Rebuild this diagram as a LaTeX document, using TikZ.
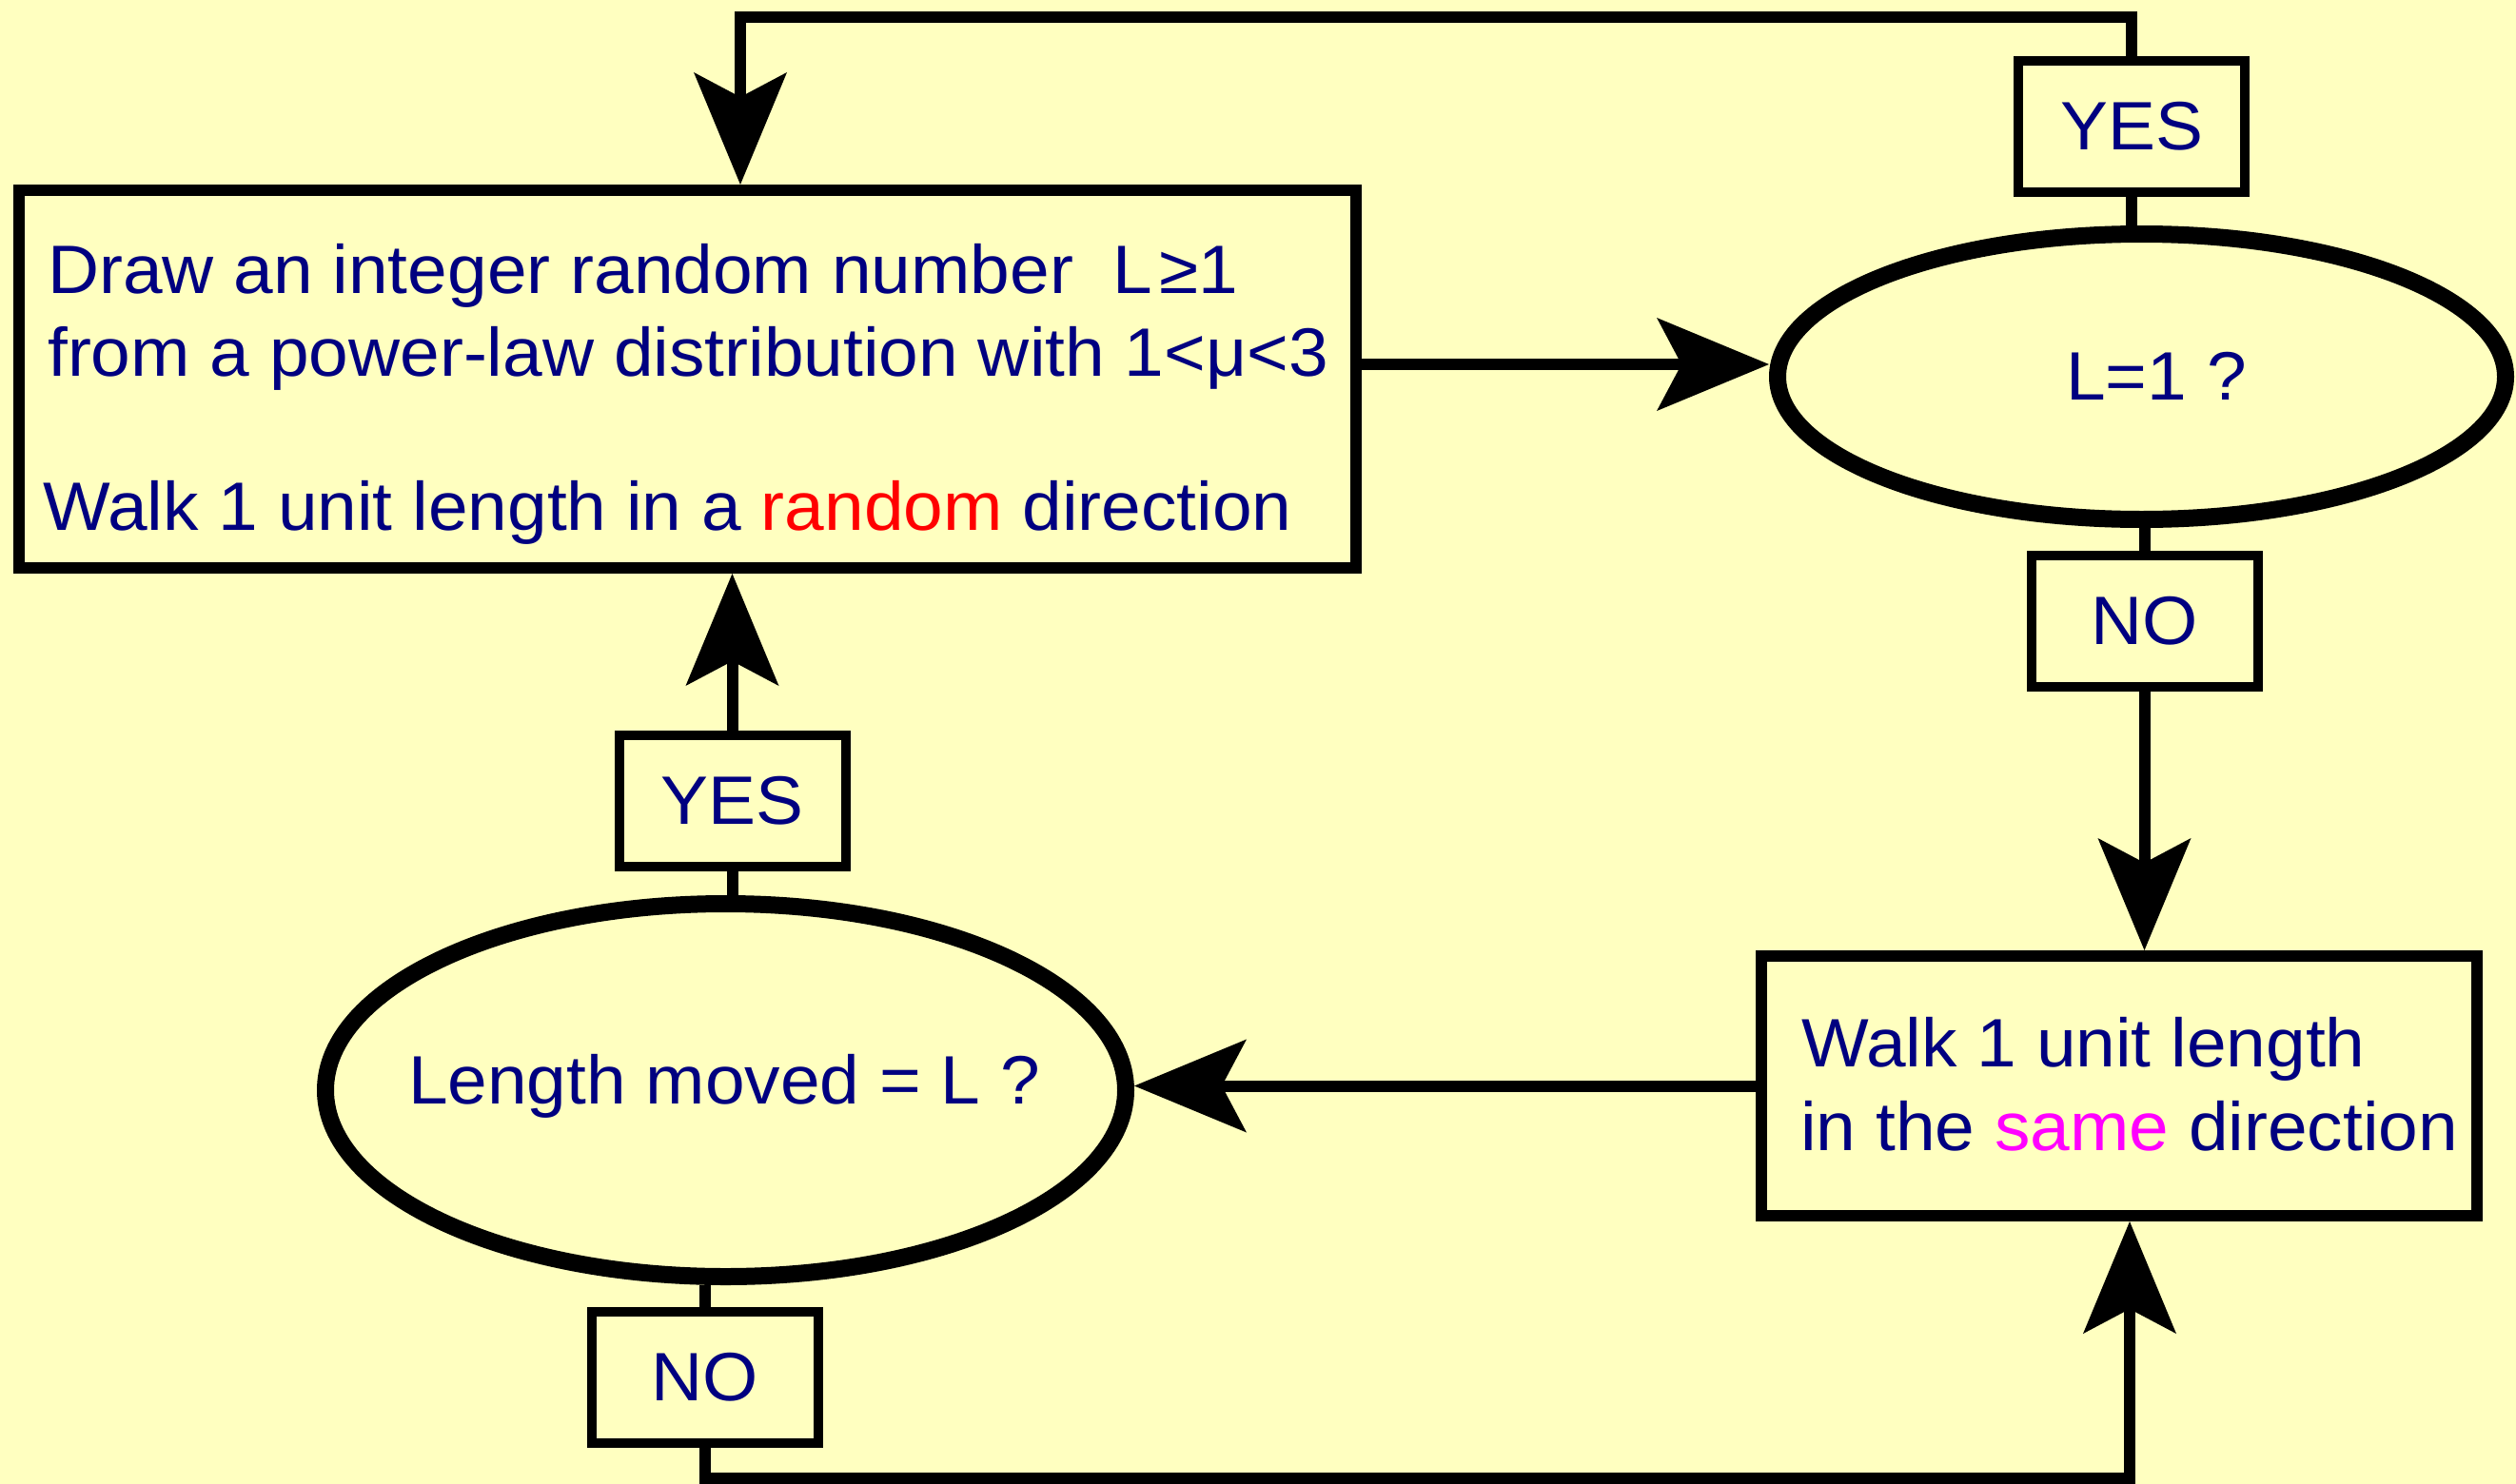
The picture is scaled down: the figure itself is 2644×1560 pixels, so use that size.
\documentclass[tikz,border=0pt]{standalone}
\usepackage{fontspec}
\setmainfont{Liberation Sans}[FakeStretch=1.04]
\usetikzlibrary{arrows.meta,shapes.geometric}
\definecolor{bgc}{HTML}{FFFFC0}
\definecolor{txt}{HTML}{000080}
\definecolor{rnd}{HTML}{FF0000}
\definecolor{mag}{HTML}{FF00FF}
\begin{document}
\begin{tikzpicture}[x=1pt,y=-1pt,
  every node/.style={font=\fontsize{72}{87}\selectfont, text=txt},
  bigbox/.style={draw=black, line width=12pt, rectangle, inner sep=0pt},
  ovalnode/.style={draw=black, line width=18pt, ellipse, inner sep=0pt},
  tagbox/.style={draw=black, line width=10pt, rectangle, inner sep=0pt, minimum width=238pt, minimum height=138pt},
  txtline/.style={anchor=base west, inner sep=0pt},
  txtmid/.style={anchor=base, inner sep=0pt},
  conn/.style={line width=12pt, draw=black},
  arrowed/.style={-{Stealth[length=118pt,width=98pt,inset=26pt,line width=0pt]}}
]
\fill[bgc] (0,0) rectangle (2644,1560);
\useasboundingbox (0,0) rectangle (2644,1560);

\node[bigbox, minimum width=1405pt, minimum height=397pt] (box1) at (722.5,398.5) {};
\node[txtline] (tA) at (50,308) {Draw an integer random number\ \ L\hspace{7pt}≥1};
\node[txtline] (tB) at (50,395) {from a power-law distribution with 1<μ<3};
\node[txtline] (tC) at (45,557) {Walk 1 unit length in a \textcolor{rnd}{random} direction};

\node[ovalnode, minimum width=765pt, minimum height=300pt] (ell1) at (2250.5,396) {};
\node[txtmid] (tQ1) at (2266,420) {L=1 ?};
\node[tagbox] (yes1) at (2240,133) {YES};
\node[tagbox] (no1) at (2253.5,653) {NO};

\node[bigbox, minimum width=752pt, minimum height=273pt] (box2) at (2227,1141.5) {};
\node[txtline] (tD) at (1893,1121) {Walk 1 unit length};
\node[txtline] (tE) at (1892,1209) {in the \textcolor{mag}{same} direction};

\node[ovalnode, minimum width=841pt, minimum height=392pt] (ell2) at (762.5,1146) {};
\node[txtmid] (tQ2) at (761,1160) {Length moved = L ?};
\node[tagbox] (yes2) at (769.5,842) {YES};
\node[tagbox] (no2) at (741,1448) {NO};

\coordinate (topL) at (778,18);
\coordinate (botR) at (2238,1554);
\coordinate (arrY) at (1859,383);

\draw[conn, arrowed] (box1.east |- arrY) -- (arrY);
\draw[conn] (yes1.south) -- (yes1.south |- ell1.north);
\draw[conn, arrowed] (yes1.north) |- (topL) -- (topL |- box1.north);
\draw[conn] (no1.north) -- (no1.north |- ell1.south);
\draw[conn, arrowed] (no1.south) -- (no1.south |- box2.north);
\draw[conn, arrowed] (box2.west) -- (box2.west -| ell2.east);
\draw[conn] (yes2.south) -- (yes2.south |- ell2.north);
\draw[conn, arrowed] (yes2.north) -- (yes2.north |- box1.south);
\draw[conn] (no2.north) -- (no2.north |- ell2.south);
\draw[conn, arrowed] (no2.south) |- (botR) -- (botR |- box2.south);
\end{tikzpicture}
\end{document}
